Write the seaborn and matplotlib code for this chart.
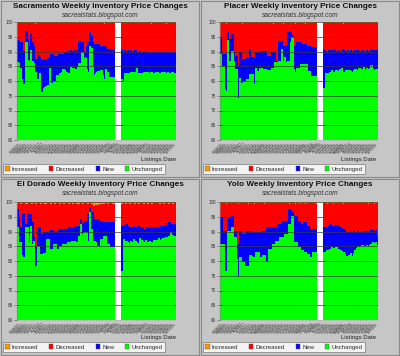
import numpy as np
import pandas as pd
import matplotlib
matplotlib.use('Agg')
import matplotlib.pyplot as plt
import seaborn as sns
from matplotlib.patches import Patch, Rectangle

sns.set_theme(style='white')
plt.rcParams['font.family'] = ['Liberation Sans', 'DejaVu Sans']

# ---------------- data ----------------
TITLES = ['Sacramento Weekly Inventory Price Changes',
          'Placer Weekly Inventory Price Changes',
          'El Dorado Weekly Inventory Price Changes',
          'Yolo Weekly Inventory Price Changes']
SUBTITLE = 'sacrealstats.blogspot.com'
XLABEL = 'Listings Date'
LEGEND_LABELS = ['Increased', 'Decreased', 'New', 'Unchanged']
COLORS = ['#FF9900', '#FF0000', '#0000FF', '#00FF00']
Y_TICKS = [60, 65, 70, 75, 80, 85, 90, 95, 100]

N_BEFORE = 66   # weeks before the missing-data gap
N_GAP = 5       # missing weeks
N_AFTER = 37    # weeks after the gap
WEEK_LABELS = [d.strftime('%m/%d/%y') for d in
               pd.date_range('2007-08-04', periods=N_BEFORE + N_GAP + N_AFTER, freq='7D')]

# cumulative tops (percent): unchanged, unchanged+new ; increased share on top
SAC_UNCH = [86.4, 86, 84.4, 80.4, 78.7, 73.8, 93, 87, 86.6, 90.3, 86.6, 86, 83, 73, 80.4, 82.4, 76, 75.3,
            77.6, 78, 77.8, 78.5, 84.1, 79, 77.6, 79.8, 80, 82, 81.5, 82.5, 83, 83.8, 83.5, 83, 82.7, 82.7,
            84.5, 84.4, 84.2, 83.8, 84, 84.5, 86, 84, 89.5, 85, 87.8, 84, 83, 91.7, 91, 85, 81.8, 82.5,
            83, 83.3, 82.8, 83.5, 81.8, 80.4, 83.8, 82.8, 81.2, 81.2, 81, 81.2,
            80.4, 79.8, 82.4, 82.6, 82.4, 82.6, 82.8, 83, 82.4, 83, 84.4, 82.6, 82.2, 82.4, 82.4, 83,
            82.4, 82.8, 82.2, 82.6, 82.8, 82.4, 82.6, 83, 82.8, 82.4, 82.6, 82.8, 83, 82.8, 82.6, 82.9,
            82.6, 82.4, 82.8, 82.5, 82.6]
SAC_UNCH_NEW = [93.8, 93.5, 93, 92.9, 90, 90, 96.8, 94, 91.7, 95.7, 93, 91.7, 87.2, 87, 88.6, 88, 87, 86.6,
                87.4, 87.4, 87.4, 87.6, 87.8, 88.9, 88.5, 88.3, 88.2, 88.4, 88.9, 88.9, 88.9, 89, 89.2,
                89.5, 90, 90, 90.2, 90, 90, 90.2, 90, 90.3, 93.4, 90, 93, 89.2, 89.5, 91.7, 93, 96.5, 95,
                92.9, 92.3, 92.3, 92.3, 92.3, 91.7, 91.5, 91.7, 91.8, 91.2, 90.8, 90.8, 90.8, 90.5, 90.8,
                90.5, 89.8, 90.3, 89.8, 90.2, 90, 90.4, 89.8, 90, 90.2, 89.8, 89.5, 90, 89.8, 89.6, 90,
                89.3, 89.8, 89.6, 89.8, 89.4, 89.8, 89.5, 89.6, 89.8, 89.4, 89.6, 89.3, 89.8, 89.6, 89.5,
                89.8, 89.4, 89.6, 89.8, 89.3, 89.5]
SAC_INC = [0.5, 0.6, 0.5, 0.7, 0.5, 0.6, 0.5, 0.8, 0.6, 0.5, 0.6, 0.5, 0.7, 0.5, 0.6, 0.5, 0.6, 0.8,
           0.5, 0.6, 0.5, 0.6, 0.7, 0.5, 0.6, 0.5, 0.6, 0.5, 0.9, 0.6, 0.5, 0.6, 0.5, 0.6, 0.7, 0.5,
           0.6, 0.5, 0.6, 0.5, 0.6, 0.8, 0.5, 0.6, 0.5, 0.6, 0.5, 0.7, 0.6, 0.5, 0.6, 0.5, 0.6, 0.9,
           0.5, 0.6, 0.5, 0.6, 0.5, 0.7, 0.6, 0.5, 0.6, 0.5, 0.6, 0.5,
           0.6, 0.5, 0.6, 0.5, 0.7, 0.5, 0.6, 0.5, 0.6, 0.5, 0.6, 0.5, 0.8, 0.5, 0.6, 0.5, 0.6, 0.5,
           0.6, 0.5, 0.7, 0.5, 0.6, 0.5, 0.6, 0.5, 0.6, 0.5, 0.6, 0.5, 0.7, 0.5, 0.6, 0.5, 0.6, 0.5, 0.6]

PLA_UNCH = [88.9, 85, 85, 77, 76.4, 93.8, 86.6, 86.6, 90, 86.6, 83.8, 83.8, 74, 81, 78.1, 79.3, 79.8, 79.8,
            80.4, 80.4, 82.1, 82.1, 82.1, 78.7, 84.4, 83.2, 83.2, 84.4, 84.4, 83.8, 83.8, 83.8, 83.6,
            83.6, 83.6, 84.4, 84.4, 86.3, 86.3, 85.8, 86.6, 86.6, 90.6, 86.6, 87.8, 86.4, 86.6, 86.6,
            93.1, 94.6, 83.8, 82.9, 84.4, 84.4, 84.4, 85.5, 85.5, 80.4, 85.5, 85.5, 83.2, 83.2, 81.5,
            81.5, 81.5, 81.5,
            77.6, 82.4, 82.4, 82.6, 83, 83.4, 82.8, 82.4, 83.6, 83.2, 82.4, 83.8, 84.2, 82.8, 83, 83.4,
            82.6, 83.6, 83.2, 82.8, 83.4, 83.8, 83, 83.6, 84.2, 83.2, 83.8, 84.6, 83.6, 84.2, 83.8, 84.4,
            85.2, 83.8, 83.6, 83.8, 83.8]
PLA_UNCH_NEW = [94.6, 88.9, 88.9, 88.9, 88.9, 96.5, 94, 91.7, 95.7, 90, 88.3, 88.3, 85, 89.5, 89.5, 87.2,
                87.2, 87.2, 87.8, 87.8, 90.6, 87.8, 87.8, 87.8, 89.5, 89.5, 89.5, 89.5, 90, 90, 90, 90,
                88.3, 88.3, 88.3, 89.5, 89.5, 89.5, 86.6, 86.6, 93.4, 93.4, 93.4, 91.7, 91.7, 91.7, 96.3,
                96.3, 96.8, 95.5, 91.7, 91.7, 92.9, 92.9, 92.9, 92.9, 92.3, 92.3, 92.3, 91.7, 91.7, 91.7,
                91.2, 91.2, 91.2, 91.2,
                90.2, 90, 89.8, 90.2, 90.4, 89.8, 90.6, 90.2, 90, 89.6, 90.4, 89.8, 90.2, 90.6, 89.6, 90,
                90.2, 89.6, 90.4, 90, 89.8, 90.2, 89.6, 90.2, 90, 89.8, 90.4, 90, 89.6, 90.2, 90, 89.8,
                90.6, 90.4, 90.2, 90, 90.2]
PLA_INC = [0.6, 0.5, 0.6, 0.5, 0.7, 0.5, 0.6, 0.5, 0.6, 0.8, 0.5, 0.6, 0.5, 0.6, 0.5, 0.7, 0.5, 0.6,
           0.5, 0.6, 0.5, 0.6, 0.9, 0.5, 0.6, 0.5, 0.6, 0.5, 0.6, 0.7, 0.5, 0.6, 0.5, 0.6, 0.5, 0.6,
           0.8, 0.5, 0.6, 0.5, 0.6, 0.5, 0.6, 0.7, 0.5, 0.6, 0.5, 0.6, 0.5, 0.6, 0.5, 0.9, 0.6, 0.5,
           0.6, 0.5, 0.6, 0.5, 0.7, 0.5, 0.6, 0.5, 0.6, 0.5, 0.6, 0.5,
           0.6, 0.5, 0.6, 0.5, 0.6, 0.8, 0.5, 0.6, 0.5, 0.6, 0.5, 0.6, 0.5, 0.7, 0.5, 0.6, 0.5, 0.6,
           0.5, 0.6, 0.5, 0.6, 0.8, 0.5, 0.6, 0.5, 0.6, 0.5, 0.6, 0.5, 0.6, 0.7, 0.5, 0.6, 0.5, 0.6, 0.5]

ELD_UNCH = [91.2, 86.2, 86.2, 81.7, 81.1, 81.1, 91.2, 91.2, 86.2, 91.8, 85.6, 86.5, 78.3, 78.3, 85, 82.2,
            82.2, 82.2, 82.5, 82.5, 87.3, 87.3, 82.2, 83.9, 83.9, 85.6, 85.6, 84, 84, 85, 85, 85.6, 85.6,
            85.6, 86.2, 86.2, 86.2, 86.7, 86.7, 86.7, 86.2, 86.2, 88.4, 92.4, 89, 89.6, 89.6, 89.6,
            86.7, 96.3, 90.7, 86.7, 86.7, 86.2, 85, 85, 85, 87.3, 83.4, 88.4, 88.4, 85.6, 85.6, 84.5,
            84.5, 84.5,
            76.6, 87.3, 86.2, 86.5, 86.2, 86, 86.5, 86.2, 87.2, 86.5, 86.2, 86, 87.5, 86.8, 86.5, 86.2,
            87, 86.2, 86, 86.5, 86.2, 86.2, 86.8, 86.5, 87, 87.5, 87, 87.2, 87.5, 87.2, 88, 87.5, 88.4,
            89.6, 88.5, 87.8, 88.4]
ELD_UNCH_NEW = [97.4, 94, 91.2, 91.2, 95.7, 92.4, 92.4, 95.7, 95.7, 95.7, 92.9, 88, 84.5, 84.5, 91.2,
                91.2, 89, 89, 89.6, 89.6, 89.6, 89.6, 90.3, 90.3, 90.1, 90.1, 90.1, 90.1, 90.7, 90.7,
                90.7, 90.7, 90.7, 90.7, 91.2, 91.2, 91.2, 91.2, 91.2, 91.2, 91.8, 91.8, 91.8, 94, 92.5,
                93.5, 93.5, 93.5, 95.7, 98, 96.3, 96.3, 94, 94, 94, 94, 93.5, 93.5, 93, 93, 93, 92.9,
                92.9, 92.9, 92.9, 92.9,
                91.8, 92, 91.2, 92.4, 91.8, 91.5, 90.7, 91.2, 91.8, 91.2, 91.5, 91.8, 91.2, 91.5, 91.2,
                90.8, 91.5, 91.2, 90.9, 91.2, 91.5, 91, 91.2, 91.4, 91.5, 91.2, 91.6, 91.8, 91.5, 92.2,
                92, 92.8, 93, 92.4, 92.4, 92.2, 92.4]
ELD_INC = [0.8, 0.6, 0.9, 0.7, 0.6, 0.8, 0.7, 0.9, 0.6, 0.7, 0.8, 0.6, 0.9, 0.7, 0.6, 0.8, 0.7, 0.6,
           0.9, 0.7, 0.8, 0.6, 0.7, 0.9, 0.6, 0.7, 0.8, 0.6, 0.7, 0.9, 0.6, 0.8, 0.7, 0.6, 0.9, 0.7,
           0.6, 0.8, 0.7, 0.6, 0.9, 0.7, 0.8, 0.6, 0.7, 0.9, 0.6, 0.7, 0.8, 0.6, 1.0, 1.4, 1.6, 1.2,
           1.5, 1.3, 1.0, 0.8, 0.7, 0.9, 0.6, 0.8, 0.7, 0.6, 0.9, 0.7,
           0.7, 0.6, 0.8, 0.7, 0.6, 0.9, 0.7, 0.6, 0.8, 0.7, 0.6, 0.7, 0.9, 0.6, 0.7, 0.8, 0.6, 0.7,
           0.9, 0.6, 0.7, 0.8, 0.6, 0.7, 0.6, 0.8, 0.7, 0.6, 0.9, 0.7, 0.6, 0.8, 0.7, 0.6, 0.7, 0.8, 0.6]

YOL_UNCH = [85.6, 85.6, 85.6, 72.7, 76.6, 90.1, 90.1, 85.6, 91.2, 87.9, 87.9, 80.6, 74.9, 81.1, 81.1,
            79.4, 79.4, 78.3, 78.3, 78.3, 81.7, 81.7, 81.1, 81.1, 82.8, 82.8, 82.8, 81.1, 81.1, 81.7,
            81.7, 80, 80, 83.9, 83.9, 83.9, 85.6, 85.6, 86.7, 86.7, 86.7, 87.9, 87.9, 87.9, 89, 89,
            82.8, 92.4, 92.4, 95.2, 86.2, 86.2, 86.2, 84.5, 84.5, 83.4, 83.4, 82.8, 82.8, 82.2, 82.2,
            81.1, 81.1, 82.8, 82.8, 82.8,
            82.8, 81.8, 83.5, 83, 84, 84.5, 84.2, 83.5, 84.5, 83.8, 84, 83.6, 83.2, 82.8, 82.2, 81.5,
            81.1, 81.8, 82.4, 81.5, 82.6, 83.4, 84.2, 85, 84.6, 84.8, 85.2, 84.6, 85, 85.2, 84.8, 85.4,
            85.6, 86.2, 86, 86.2, 85.4]
YOL_UNCH_NEW = [94.6, 94.6, 90.1, 78.9, 90, 94.6, 94.6, 93.5, 95.2, 90.1, 90.1, 85.6, 85.6, 90.1, 90.1,
                89, 89, 89, 90.1, 90.1, 90.1, 89.6, 89.6, 89.6, 89.6, 89.6, 89.6, 89.6, 89.6, 90.1,
                90.1, 90.1, 91.2, 91.2, 91.2, 91.2, 91.4, 91.4, 91.4, 92.4, 92.4, 92.4, 93.5, 93.5,
                93.5, 93.5, 93.5, 97.4, 97.4, 96.3, 95.2, 95.2, 95.2, 93.5, 93.5, 92.4, 92.4, 92.9,
                92.9, 91.8, 91.8, 90.7, 90.7, 90.7, 90.7, 90.7,
                91.2, 90, 91.5, 91.8, 92.4, 91.6, 91.8, 91.2, 92, 91.6, 91.8, 91.5, 91.2, 90.8, 90.2,
                89.5, 89, 89.5, 89, 89.6, 90, 89.5, 89.8, 90, 89.6, 89.5, 89.8, 90.1, 89.6, 90, 89.8,
                90.2, 90.6, 90.4, 90, 90.4, 88]
YOL_INC = [0.6, 0.7, 0.5, 0.6, 0.8, 0.6, 0.5, 0.7, 0.6, 0.9, 0.6, 0.5, 0.7, 0.6, 0.5, 0.6, 0.8, 0.6,
           0.5, 0.7, 0.6, 0.5, 0.6, 0.9, 0.6, 0.5, 0.7, 0.6, 0.5, 0.6, 0.8, 0.6, 0.5, 0.7, 0.6, 0.5,
           0.6, 0.9, 0.6, 0.5, 0.7, 0.6, 0.5, 0.6, 0.8, 0.6, 0.5, 0.7, 0.6, 0.5, 0.6, 0.9, 0.6, 0.5,
           0.7, 0.6, 0.5, 0.6, 0.8, 0.6, 0.5, 0.7, 0.6, 0.5, 0.6, 0.7,
           0.6, 0.5, 0.7, 0.6, 0.5, 0.6, 0.8, 0.6, 0.5, 0.7, 0.6, 0.5, 0.6, 0.9, 0.6, 0.5, 0.7, 0.6,
           0.5, 0.6, 0.8, 0.6, 0.5, 0.7, 0.6, 0.5, 0.6, 0.9, 0.6, 0.5, 0.7, 0.6, 0.5, 0.6, 0.8, 0.6, 0.5]

PANEL_DATA = [(SAC_UNCH, SAC_UNCH_NEW, SAC_INC), (PLA_UNCH, PLA_UNCH_NEW, PLA_INC),
              (ELD_UNCH, ELD_UNCH_NEW, ELD_INC), (YOL_UNCH, YOL_UNCH_NEW, YOL_INC)]

# ---------------- layout ----------------
W, H = 400, 356
fig = plt.figure(figsize=(W / 100, H / 100), dpi=100, facecolor='#C6C6C6')

PANELS = [(0, 0), (200, 0), (0, 178), (200, 178)]
AX_BOX = [(17, 22, 176, 140), (20, 22, 178, 140), (17, 24, 176, 142), (20, 24, 178, 142)]


def fx(px):
    return px / W


def fy(py):
    return 1 - py / H


n_slots = N_BEFORE + N_GAP + N_AFTER
slot_order = list(range(n_slots))
for k, ((ox, oy), (l, t, r, b), title, (unch, unch_new, inc)) in enumerate(
        zip(PANELS, AX_BOX, TITLES, PANEL_DATA)):
    # panel frame
    fig.add_artist(Rectangle((fx(ox + 1), fy(oy + 177)), fx(198), 176 / H, transform=fig.transFigure,
                             facecolor='none', edgecolor='#8A8A8A', lw=0.8))
    ax = fig.add_axes([fx(ox + l), fy(oy + b), fx(r - l), (b - t) / H])
    ax.set_facecolor('white')

    pos = [i if i < N_BEFORE else i + N_GAP for i in range(len(unch))]
    df = pd.DataFrame({'week': pos,
                       'total': [100.0] * len(unch),
                       'dec_top': [100 - v for v in inc],
                       'new_top': unch_new,
                       'unch': unch})
    for col, c in zip(['total', 'dec_top', 'new_top', 'unch'], COLORS):
        sns.barplot(data=df, x='week', y=col, order=slot_order, color=c, saturation=1, width=1.0,
                    errorbar=None, linewidth=0, ax=ax)
    for p in ax.patches:
        p.set_antialiased(False)
        p.set_snap(False)

    ax.set_xlim(-0.5, n_slots - 0.5)
    ax.set_ylim(60, 100)
    ax.set_yticks(Y_TICKS)
    ax.set_yticklabels([str(v) for v in Y_TICKS], fontsize=3.3, color='#333333')
    ax.set_yticks(np.arange(60, 101, 1), minor=True)
    ax.tick_params(axis='y', which='major', length=2, width=0.4, pad=1, left=True, color='#555555')
    ax.tick_params(axis='y', which='minor', length=1, width=0.3, left=True, color='#777777')
    xt = list(range(0, n_slots, 2))
    ax.set_xticks(xt)
    ax.set_xticklabels([WEEK_LABELS[i] for i in xt], rotation=45, ha='right', fontsize=2.4,
                       color='#333333', rotation_mode='anchor')
    ax.tick_params(axis='x', length=1, width=0.3, pad=0.5, bottom=True, color='#777777')
    ax.set_xlabel('')
    ax.set_ylabel('')
    ax.yaxis.grid(True, color='#3a3a3a', lw=0.5)
    ax.xaxis.grid(False)
    ax.set_axisbelow(False)
    for s in ['top', 'right', 'bottom']:
        ax.spines[s].set_visible(False)
    ax.spines['left'].set_color('#888888')
    ax.spines['left'].set_linewidth(0.4)

    # titles
    fig.text(fx(ox + 100), fy(oy + 6.5), title, ha='center', va='center', fontsize=5.9,
             fontweight='bold', color='#111111')
    fig.text(fx(ox + 100), fy(oy + 15.5), SUBTITLE, ha='center', va='center', fontsize=4.8,
             style='italic', color='#333333')
    fig.text(fx(ox + 176), fy(oy + 160), XLABEL, ha='right', va='center', fontsize=4.3,
             color='#222222')

    handles = [Patch(facecolor=c, edgecolor='#555555', lw=0.3) for c in COLORS]
    leg = fig.legend(handles, LEGEND_LABELS, loc='lower left', ncol=4,
                     bbox_to_anchor=(fx(ox + 3), fy(oy + 174)), bbox_transform=fig.transFigure,
                     fontsize=4.3, frameon=True, fancybox=False, borderpad=0.4,
                     handlelength=0.7, handleheight=0.7, handletextpad=0.4, columnspacing=1.8,
                     borderaxespad=0)
    leg.get_frame().set_facecolor('white')
    leg.get_frame().set_edgecolor('#777777')
    leg.get_frame().set_linewidth(0.6)

fig.savefig('out.png', dpi=100, facecolor=fig.get_facecolor())
